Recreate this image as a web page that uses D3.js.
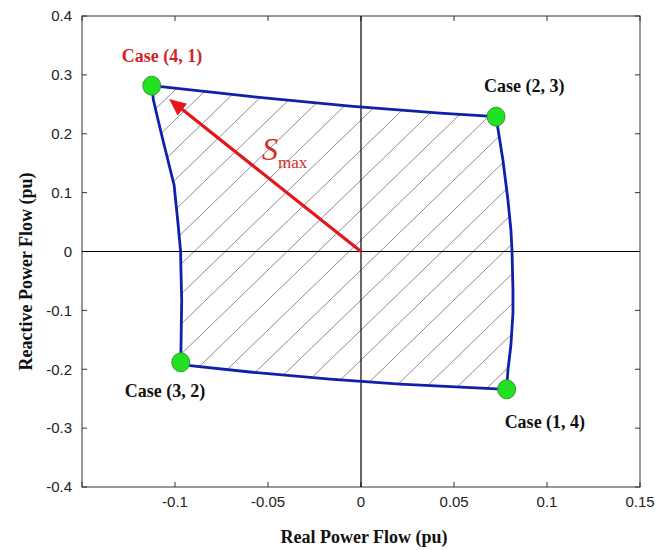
<!DOCTYPE html>
<html>
<head>
<meta charset="utf-8">
<script src="https://cdn.jsdelivr.net/npm/d3@7"></script>
<style>
  body { margin: 0; background: #fff; }
  svg { display: block; }
  .tick-label { font-family: "Liberation Sans Narrow", "Arial Narrow", "Liberation Sans", Arial, sans-serif; font-size: 15px; fill: #222; }
  .axis-title { font-family: "Liberation Serif", "Times New Roman", serif; font-size: 18px; font-weight: bold; fill: #111; }
  .case-label { font-family: "Liberation Serif", "Times New Roman", serif; font-size: 18px; font-weight: bold; fill: #111; }
</style>
</head>
<body>
<svg id="svg"></svg>
<script>
// Feasible region of real / reactive power flow

const width = 657;
const height = 550;

const margin = { top: 16, left: 82, bottom: 63, right: 17 };

// tick values
const xTicks = [-0.15, -0.1, -0.05, 0, 0.05, 0.1, 0.15];
const xTickLabels = ["", "-0.1", "-0.05", "0", "0.05", "0.1", "0.15"];
const yTicks = [0.4, 0.3, 0.2, 0.1, 0, -0.1, -0.2, -0.3, -0.4];
const yTickLabels = ["0.4", "0.3", "0.2", "0.1", "0", "-0.1", "-0.2", "-0.3", "-0.4"];

// boundary of the region (clockwise, starting at case (4, 1))
const boundaryX = [-0.1125, -0.0597, -0.0059, 0.0425, 0.0726,
  0.0763, 0.0790, 0.0806, 0.0812, 0.0817, 0.0817, 0.0806, 0.0790, 0.0783,
  0.0210, -0.0167, -0.0597, -0.0919, -0.0969,
  -0.0964, -0.0968, -0.0970, -0.0984, -0.1005, -0.1065, -0.1091, -0.1116];
const boundaryY = [0.2816, 0.2633, 0.2471, 0.2352, 0.2290,
  0.1554, 0.0875, 0.0365, 0.0008, -0.0654, -0.1045, -0.1588, -0.2013, -0.2341,
  -0.2251, -0.2166, -0.2047, -0.1940, -0.1882,
  -0.0824, -0.0314, 0.0008, 0.0484, 0.1130, 0.1894, 0.2234, 0.2573];

// corner cases
const caseNames = ["Case (4, 1)", "Case (2, 3)", "Case (3, 2)", "Case (1, 4)"];
const caseX = [-0.1125, 0.0726, -0.0969, 0.0783];
const caseY = [0.2816, 0.2290, -0.1882, -0.2341];
const caseColors = ["#d2232a", "#111", "#111", "#111"];

// Smax arrow end
const arrowTip = [-0.1032, 0.2590];

const svg = d3.select("#svg").attr("width", width).attr("height", height);

const x = d3.scaleLinear()
  .domain([-0.15, 0.15])
  .range([margin.left, width - margin.right]);

const y = d3.scaleLinear()
  .domain([-0.4, 0.4])
  .range([height - margin.bottom, margin.top]);

// hatch pattern
const defs = svg.append("defs");
const pat = defs.append("pattern")
  .attr("id", "hatch")
  .attr("patternUnits", "userSpaceOnUse")
  .attr("x", 20)
  .attr("y", 0)
  .attr("width", 31)
  .attr("height", 30);
pat.append("line")
  .attr("x1", -1).attr("y1", 31 * 30 / 31 + 30 / 31)
  .attr("x2", 32).attr("y2", -30 / 31)
  .attr("stroke", "#8c8c8c")
  .attr("stroke-width", 1);

// frame
svg.append("rect")
  .attr("x", x(-0.15))
  .attr("y", y(0.4))
  .attr("width", x(0.15) - x(-0.15))
  .attr("height", y(-0.4) - y(0.4))
  .attr("fill", "none")
  .attr("stroke", "#333")
  .attr("stroke-width", 1);

// ticks on all four sides, pointing inward
const gTicks = svg.append("g").attr("stroke", "#333").attr("stroke-width", 1);
xTicks.forEach((t) => {
  gTicks.append("line").attr("x1", x(t)).attr("x2", x(t))
    .attr("y1", y(-0.4)).attr("y2", y(-0.4) - 5);
  gTicks.append("line").attr("x1", x(t)).attr("x2", x(t))
    .attr("y1", y(0.4)).attr("y2", y(0.4) + 5);
});
yTicks.forEach((t) => {
  gTicks.append("line").attr("x1", x(-0.15)).attr("x2", x(-0.15) + 5)
    .attr("y1", y(t)).attr("y2", y(t));
  gTicks.append("line").attr("x1", x(0.15)).attr("x2", x(0.15) - 5)
    .attr("y1", y(t)).attr("y2", y(t));
});

// tick labels
svg.selectAll("text.xlab")
  .data(xTicks)
  .join("text")
  .attr("class", "tick-label xlab")
  .attr("x", (d) => x(d))
  .attr("y", y(-0.4) + 20)
  .attr("text-anchor", "middle")
  .text((d, i) => xTickLabels[i]);

svg.selectAll("text.ylab")
  .data(yTicks)
  .join("text")
  .attr("class", "tick-label ylab")
  .attr("x", x(-0.15) - 10)
  .attr("y", (d) => y(d))
  .attr("dy", "0.35em")
  .attr("text-anchor", "end")
  .text((d, i) => yTickLabels[i]);

// axis titles
svg.append("text")
  .attr("class", "axis-title")
  .attr("x", x(0) + 3)
  .attr("y", 543)
  .attr("text-anchor", "middle")
  .text("Real Power Flow (pu)");

svg.append("text")
  .attr("class", "axis-title")
  .attr("transform", `translate(32,${y(0) + 20}) rotate(-90)`)
  .attr("text-anchor", "middle")
  .text("Reactive Power Flow (pu)");

// region
const pts = boundaryX.map((d, i) => [x(d), y(boundaryY[i])]);
const line = d3.line().curve(d3.curveLinearClosed);

svg.append("path")
  .attr("d", line(pts))
  .attr("fill", "url(#hatch)")
  .attr("stroke", "none");

// zero lines
svg.append("line")
  .attr("x1", x(-0.15)).attr("x2", x(0.15))
  .attr("y1", y(0)).attr("y2", y(0))
  .attr("stroke", "#000").attr("stroke-width", 1.2);
svg.append("line")
  .attr("x1", x(0)).attr("x2", x(0))
  .attr("y1", y(0.4)).attr("y2", y(-0.4))
  .attr("stroke", "#000").attr("stroke-width", 1.2);

svg.append("path")
  .attr("d", line(pts))
  .attr("fill", "none")
  .attr("stroke", "#1020a8")
  .attr("stroke-width", 2.8)
  .attr("stroke-linejoin", "round");

// Smax arrow
const x0 = x(0), y0 = y(0);
const x1 = x(arrowTip[0]), y1 = y(arrowTip[1]);
const len = Math.hypot(x1 - x0, y1 - y0);
const ux = (x1 - x0) / len, uy = (y1 - y0) / len;
const headLen = 17, headW = 7.5;
const bx = x1 - ux * headLen, by = y1 - uy * headLen;

svg.append("line")
  .attr("x1", x0).attr("y1", y0)
  .attr("x2", bx + ux * 2).attr("y2", by + uy * 2)
  .attr("stroke", "#e4161c")
  .attr("stroke-width", 3.2);

svg.append("path")
  .attr("d", `M${x1},${y1} L${bx - uy * headW},${by + ux * headW} L${bx + uy * headW},${by - ux * headW} Z`)
  .attr("fill", "#e4161c");

const smax = svg.append("text")
  .attr("x", (x0 + x1) / 2 - 3)
  .attr("y", (y0 + y1) / 2 - 15)
  .attr("fill", "#d42a2a")
  .attr("font-family", "'Liberation Serif', 'Times New Roman', serif");
smax.append("tspan")
  .attr("font-style", "italic")
  .attr("font-size", 32)
  .text("S");
smax.append("tspan")
  .attr("font-size", 17)
  .attr("dy", 8)
  .text("max");

// corner cases
svg.selectAll("ellipse.case")
  .data(caseX)
  .join("ellipse")
  .attr("class", "case")
  .attr("cx", (d) => x(d))
  .attr("cy", (d, i) => y(caseY[i]))
  .attr("rx", 9)
  .attr("ry", 9.5)
  .attr("fill", "#22e022")
  .attr("stroke", "#3a9a2a")
  .attr("stroke-width", 1);

// label offsets from each point (pixels)
const labelDx = [-30, -12, -56, -2];
const labelDy = [-24, -25, 35, 39];

svg.selectAll("text.case-label")
  .data(caseNames)
  .join("text")
  .attr("class", "case-label")
  .attr("x", (d, i) => x(caseX[i]) + labelDx[i])
  .attr("y", (d, i) => y(caseY[i]) + labelDy[i])
  .style("fill", (d, i) => caseColors[i])
  .text((d) => d);
</script>
</body>
</html>
